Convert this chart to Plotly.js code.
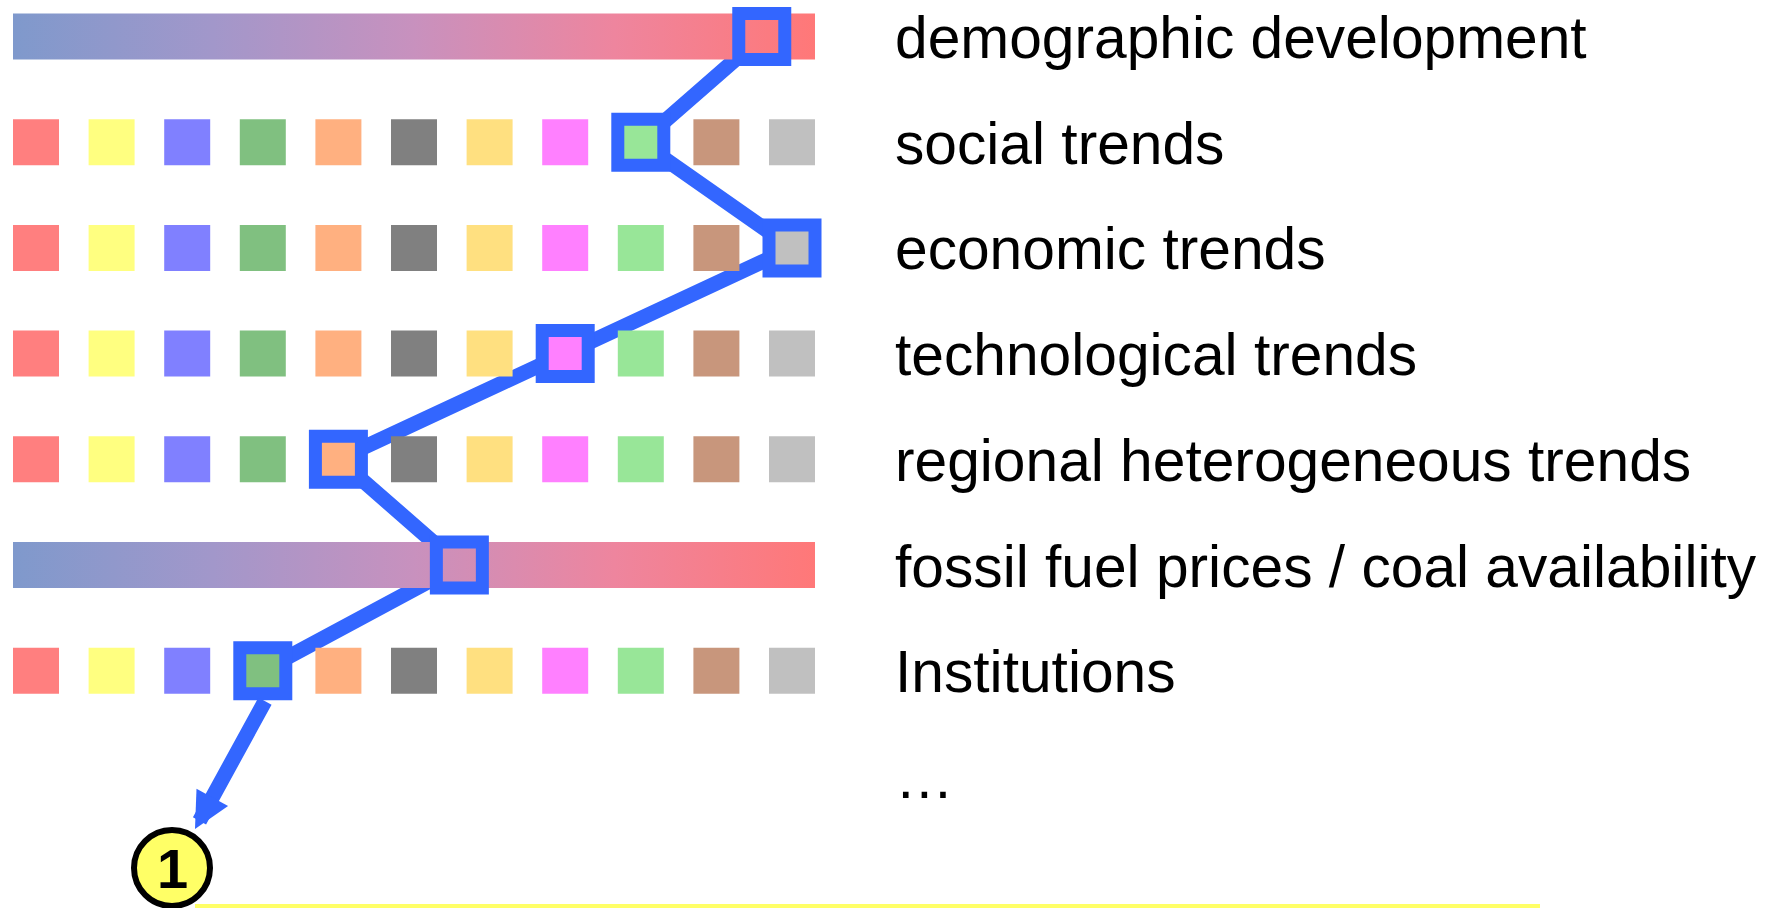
<!DOCTYPE html>
<html><head><meta charset="utf-8">
<script src="https://cdn.plot.ly/plotly-3.0.1.min.js"></script>
<style>html,body{margin:0;padding:0;background:#fff;overflow:hidden}#chart{width:1777px;height:908px}</style>
</head><body><div id="chart"></div>
<script>
// ---- data ----
const factors = ["demographic development", "social trends", "economic trends", "technological trends",
  "regional heterogeneous trends", "fossil fuel prices / coal availability", "Institutions", "…"];
// "continuous" = gradient range, "discrete" = set of options, "none" = label only
const rowTypes = ["continuous", "discrete", "discrete", "discrete", "discrete", "continuous", "discrete", "none"];
const optionIndex = [0, 1, 2, 3, 4, 5, 6, 7, 8, 9, 10];
const optionColors = ["#FF7F7F", "#FFFF80", "#8080FF", "#80C080", "#FFB080", "#808080",
  "#FFE080", "#FF80FF", "#98E698", "#C8967C", "#C0C0C0"];
// chosen option per row (continuous rows: position along the range)
const chosen = [9.6, 8, 10, 7, 4, 5.6, 3];
const gradientStops = [0, 0.25, 0.5, 0.75, 1];
const gradientColors = ["rgb(127,153,204)", "rgb(162,151,202)", "rgb(200,145,190)", "rgb(238,133,158)", "rgb(255,120,120)"];
const scenarioLabel = "1";

// ---- geometry (style) ----
const W = 1777, H = 908;
const COL0 = 36, COLPX = 75.6, ROW0 = 36.5, ROWPX = 105.7;
const SQ = 46, BOXLINE = 13, PATHW = 15, BLUE = "#3366FF";
const px2x = p => (p - COL0) / COLPX;
const py2y = p => (p - ROW0) / ROWPX;
const x2px = v => COL0 + v * COLPX;
const y2py = v => ROW0 + v * ROWPX;
const hx = SQ / 2 / COLPX, hy = SQ / 2 / ROWPX;

const traces = [];
// path line
traces.push({
  type: "scatter", mode: "lines", x: chosen, y: chosen.map((c, i) => i),
  line: {color: BLUE, width: PATHW}, hoverinfo: "skip", showlegend: false
});
// continuous rows: gradient bars
rowTypes.forEach((t, r) => {
  if (t !== "continuous") return;
  const xa = optionIndex[0] - hx, xb = optionIndex[optionIndex.length - 1] + hx;
  traces.push({
    type: "scatter", mode: "lines", fill: "toself",
    x: [xa, xb, xb, xa, xa], y: [r - hy, r - hy, r + hy, r + hy, r - hy],
    line: {width: 0, color: "rgba(0,0,0,0)"},
    fillgradient: {type: "horizontal", colorscale: gradientStops.map((s, i) => [s, gradientColors[i]])},
    hoverinfo: "skip", showlegend: false
  });
});
// discrete rows: option squares
const sx = [], sy = [], sc = [];
rowTypes.forEach((t, r) => {
  if (t !== "discrete") return;
  optionIndex.forEach(i => { sx.push(i); sy.push(r); sc.push(optionColors[i]); });
});
traces.push({
  type: "scatter", mode: "markers", x: sx, y: sy,
  marker: {symbol: "square", size: SQ, color: sc, line: {width: 0}},
  hoverinfo: "skip", showlegend: false
});
// selection boxes
traces.push({
  type: "scatter", mode: "markers", x: chosen, y: chosen.map((c, i) => i),
  marker: {symbol: "square-open", size: SQ, color: BLUE, line: {width: BOXLINE}},
  hoverinfo: "skip", showlegend: false
});

const annotations = factors.map((f, r) => ({
  x: px2x(895), y: r, xref: "x", yref: "y", xanchor: "left", yanchor: "middle",
  text: f, showarrow: false, yshift: -1, borderpad: 0, borderwidth: 0,
  font: {family: "Liberation Sans, Arial, sans-serif", size: 58.7, color: "#000"}
}));
// arrow from last selection to scenario marker
const last = chosen.length - 1;
const tailPx = [x2px(chosen[last]) + 3, y2py(last) + 29];
const headPx = [195, 829];
annotations.push({
  x: px2x(headPx[0]), y: py2y(headPx[1]), ax: px2x(tailPx[0]), ay: py2y(tailPx[1]),
  xref: "x", yref: "y", axref: "x", ayref: "y", text: "", showarrow: true,
  arrowhead: 2, arrowsize: 0.48, arrowwidth: PATHW, arrowcolor: BLUE, standoff: 0
});
// scenario number
annotations.push({
  x: 172 / W, y: (H - 868.5) / H, xref: "paper", yref: "paper", xanchor: "center", yanchor: "middle",
  text: "<b>" + scenarioLabel + "</b>", showarrow: false,
  font: {family: "Liberation Sans, Arial, sans-serif", size: 56, color: "#000"}
});

const shapes = [
  {type: "circle", xref: "paper", yref: "paper", x0: 134 / W, x1: 210 / W, y0: (H - 906) / H, y1: (H - 830) / H,
   fillcolor: "#FFFF66", line: {color: "#000", width: 6}, layer: "above"},
  {type: "line", xref: "paper", yref: "paper", x0: 195 / W, x1: 1540 / W, y0: 2 / H, y1: 2 / H,
   line: {color: "#FFFF66", width: 4}}
];

const layout = {
  width: W, height: H, margin: {l: 0, r: 0, t: 0, b: 0, pad: 0},
  paper_bgcolor: "#fff", plot_bgcolor: "#fff", showlegend: false, hovermode: false,
  xaxis: {range: [px2x(0), px2x(W)], visible: false, fixedrange: true},
  yaxis: {range: [py2y(H), py2y(0)], visible: false, fixedrange: true},
  annotations: annotations, shapes: shapes
};
Plotly.newPlot("chart", traces, layout, {staticPlot: true, displayModeBar: false});
</script></body></html>
